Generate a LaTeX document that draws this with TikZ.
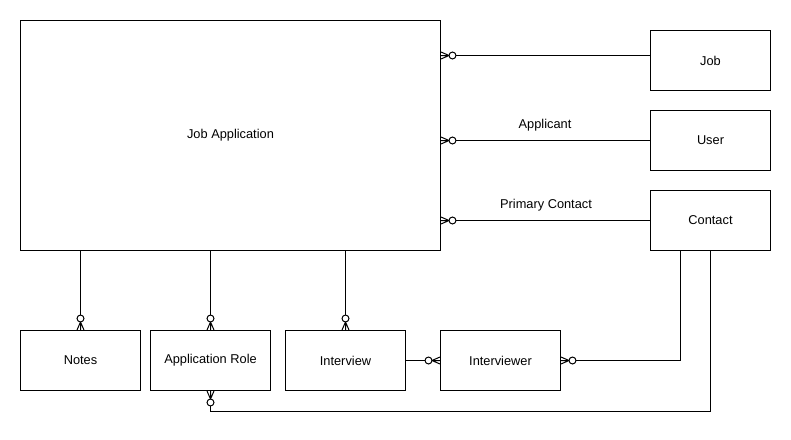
\documentclass[tikz,border=0pt]{standalone}
\usepackage{fontspec}
\setmainfont{Liberation Sans}
\usetikzlibrary{calc}
\begin{document}
\begin{tikzpicture}[x=0.75pt,y=-0.75pt,
  font=\fontsize{9.6pt}{11.5pt}\selectfont,
  ent/.style={draw, line width=0.75pt, minimum width=90pt, minimum height=45pt, inner sep=0pt, anchor=north west},
  conn/.style={line width=0.75pt},
  lbl/.style={inner sep=1pt},
  zm/.pic={
    \draw[line width=0.75pt] (0,3.5)--(8,0)--(0,-3.5) (0,0)--(8,0);
    \draw[line width=0.75pt, fill=white] (11.5,0) circle[radius=2.6pt];
  }]
\useasboundingbox (0,0) rectangle (791,439);
% entities
\node[ent, minimum width=315pt, minimum height=172.5pt] (ja) at (20,20) {Job Application};
\node[ent] (job) at (650,30) {Job};
\node[ent] (user) at (650,110) {User};
\node[ent] (contact) at (650,190) {Contact};
\node[ent] (notes) at (20,330) {Notes};
\node[ent] (approle) at (150,330) {Application Role};
\node[ent] (interview) at (285,330) {Interview};
\node[ent] (interviewer) at (440,330) {Interviewer};
% labels
\node[lbl] (lapp) at (545,125) {Applicant};
\node[lbl] (lpc) at (546,205) {Primary Contact};
% connectors
\coordinate (jobl) at ($(job.west)+(0,-5)$);
\coordinate (jaJob) at (ja.east |- jobl);
\coordinate (jaUser) at (ja.east |- user.west);
\coordinate (jaCon) at (ja.east |- contact.west);
\coordinate (jaNotes) at (notes.north |- ja.south);
\coordinate (jaRole) at (approle.north |- ja.south);
\coordinate (jaInt) at (interview.north |- ja.south);
\coordinate (conA) at ($(contact.south)+(-30,0)$);
\draw[conn] (jaJob) -- (jobl);
\draw[conn] (jaUser) -- (user.west);
\draw[conn] (jaCon) -- (contact.west);
\draw[conn] (jaNotes) -- (notes.north);
\draw[conn] (jaRole) -- (approle.north);
\draw[conn] (jaInt) -- (interview.north);
\draw[conn] (interview.east) -- (interviewer.west);
\draw[conn] (conA) |- (interviewer.east);
\draw[conn] (contact.south) -- ++(0,160) -| (approle.south);
% crow's feet (zero or many)
\pic at (jaJob) {zm};
\pic at (jaUser) {zm};
\pic at (jaCon) {zm};
\pic[rotate=90] at (notes.north) {zm};
\pic[rotate=90] at (approle.north) {zm};
\pic[rotate=90] at (interview.north) {zm};
\pic[rotate=180] at (interviewer.west) {zm};
\pic at (interviewer.east) {zm};
\pic[rotate=-90] at (approle.south) {zm};
\end{tikzpicture}
\end{document}
